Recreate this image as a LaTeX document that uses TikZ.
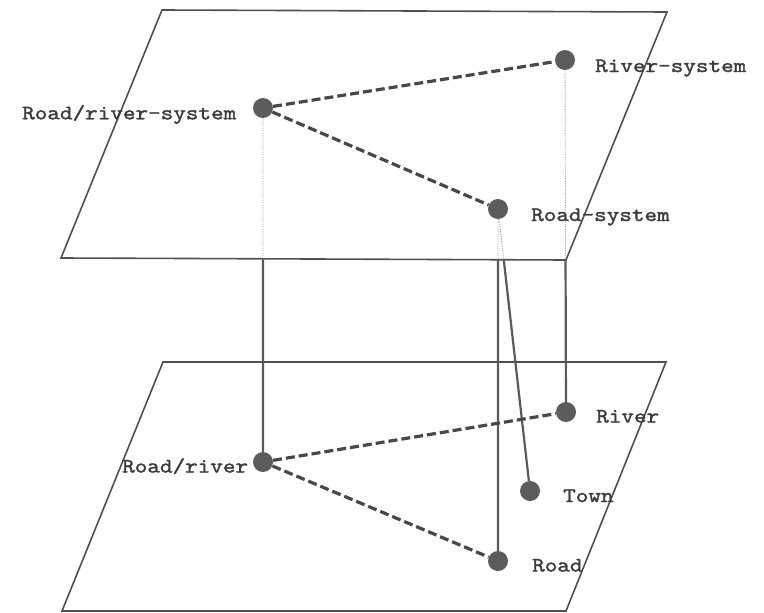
\documentclass[tikz,border=0pt]{standalone}
\usepackage{fontspec}
\newfontfamily\labelfont{lmmono10-regular.otf}[FakeBold=1.6, FakeStretch=1.17]
\definecolor{edgegray}{HTML}{505050}
\definecolor{linkgray}{HTML}{484848}
\definecolor{stemgray}{HTML}{5A5A5A}
\definecolor{hidgray}{HTML}{A8A8A8}
\definecolor{ballgray}{HTML}{5C5C5C}
\definecolor{textgray}{HTML}{3C3C3C}
\tikzset{
  plane/.style={draw=edgegray, line width=1.6pt, line join=miter},
  ball/.style={circle, fill=ballgray, draw=none, minimum size=20pt, inner sep=0pt},
  link/.style={draw=linkgray, line width=3.2pt, dash pattern=on 9pt off 4pt},
  stem/.style={draw=stemgray, line width=2.2pt},
  hidden/.style={draw=hidgray, line width=0.9pt, dash pattern=on 1.2pt off 1.2pt},
  lab/.style={anchor=base west, inner sep=0pt, text=textgray,
    font=\labelfont\fontsize{20.5}{24}\selectfont}
}
\begin{document}
\begin{tikzpicture}[x=1pt, y=-1pt]
\useasboundingbox (0,0) rectangle (764,613);

% corners of the two planes
\coordinate (tTL) at (162,10);
\coordinate (tTR) at (667,12);
\coordinate (tBR) at (566,260);
\coordinate (tBL) at (61,258);
\coordinate (bTL) at (163,362);
\coordinate (bTR) at (666,362);
\coordinate (bBR) at (566,611);
\coordinate (bBL) at (62,611);

\draw[plane] (tTL) -- (tTR) -- (tBR) -- (tBL) -- cycle;
\draw[plane] (bTL) -- (bTR) -- (bBR) -- (bBL) -- cycle;

% upper level
\node[ball] (rrs) at (263,108) {};
\node[ball] (rs)  at (565,60)  {};
\node[ball] (rds) at (498,209) {};
% lower level
\node[ball] (rr) at (263,462) {};
\node[ball] (rv) at (566,412) {};
\node[ball] (tw) at (530,491) {};
\node[ball] (rd) at (498,561) {};

% where the vertical links leave the upper plane
\coordinate (x1) at (intersection of rrs.center--rr.center and tBL--tBR);
\coordinate (x2) at (intersection of rs.center--rv.center and tBL--tBR);
\coordinate (x3) at (intersection of rds.center--rd.center and tBL--tBR);
\coordinate (x4) at (intersection of rds.center--tw.center and tBL--tBR);

% vertical links: hidden part under the upper plane, then solid
\draw[hidden] (rrs) -- (x1);
\draw[hidden] (rs)  -- (x2);
\draw[hidden] (rds) -- (x3);
\draw[hidden] (rds) -- (x4);
\draw[stem] (x1) -- (rr);
\draw[stem] (x2) -- (rv);
\draw[stem] (x3) -- (rd);
\draw[stem] (x4) -- (tw);

% links within each level
\draw[link] (rrs) -- (rs);
\draw[link] (rrs) -- (rds);
\draw[link] (rr) -- (rv);
\draw[link] (rr) -- (rd);

% labels
\node[lab] (lrrs) at (22,119.3)  {Road/river-system};
\node[lab] (lrs)  at (595,72)    {River-system};
\node[lab] (lrds) at (531,221)   {Road-system};
\node[lab] (lrr)  at (122,472.5) {Road/river};
\node[lab] (lrv)  at (596,422.5) {River};
\node[lab] (ltw)  at (563,502)   {Town};
\node[lab] (lrd)  at (532,571.5) {Road};
\end{tikzpicture}
\end{document}
